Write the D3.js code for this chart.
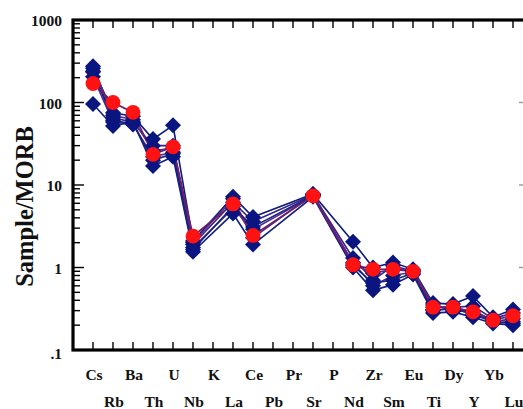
<!DOCTYPE html>
<html><head><meta charset="utf-8">
<script src="https://cdn.jsdelivr.net/npm/d3@7"></script>
<style>body{margin:0;background:#fff;overflow:hidden}svg{display:block}</style>
</head><body>
<svg id="c" width="523" height="409"></svg>
<script>
const categories = ["Cs","Rb","Ba","Th","U","Nb","K","La","Ce","Pb","Pr","Sr","P","Nd","Zr","Sm","Eu","Ti","Dy","Y","Yb","Lu"];
const yTickValues = [0.1, 1, 10, 100, 1000];
const yTickLabels = [".1", "1", "10", "100", "1000"];
const yLabel = "Sample/MORB";
// null = element not analysed (K, Pb, Pr, P)
const sample1 = [260, 75, 68, 36, 53, 2.1, null, 7.2, 4.1, null, null, 7.8, null, 2.05, 1.0, 1.15, 0.95, 0.37, 0.36, 0.45, 0.25, 0.31];
const sample2 = [235, 66, 57, 30, 30, 1.9, null, 6.2, 3.6, null, null, 7.6, null, 1.3, 0.7, 1.05, 0.9, 0.33, 0.33, 0.34, 0.24, 0.28];
const sample3 = [205, 58, 54, 22, 25, 1.75, null, 5.2, 2.9, null, null, 7.4, null, 1.15, 0.6, 0.8, 0.88, 0.31, 0.31, 0.28, 0.22, 0.24];
const sample4 = [96, 52, 58, 17, 22, 1.55, null, 4.5, 1.9, null, null, 7.2, null, 1.0, 0.53, 0.62, 0.82, 0.28, 0.29, 0.25, 0.21, 0.2];
const sample5 = [275, 70, 62, 26, 28, 2.0, null, 6.8, 2.3, null, null, 7.7, null, 1.1, 0.85, 0.95, 0.92, 0.35, 0.3, 0.3, 0.23, 0.22];
const sample6 = [240, 61, 55, 20, 24, 1.65, null, 5.5, 3.1, null, null, 7.5, null, 1.05, 0.65, 0.7, 0.85, 0.3, 0.32, 0.27, 0.22, 0.21];
const average = [170, 100, 76, 23.5, 29, 2.4, null, 5.9, 2.45, null, null, 7.4, null, 1.08, 0.95, 0.95, 0.9, 0.33, 0.33, 0.29, 0.23, 0.26];
const blueSamples = [sample1, sample2, sample3, sample4, sample5, sample6];
const lineColors = ["#0d1a7a", "#3a1f86", "#4b2a8c", "#101e82", "#5a2a80", "#1a237e"];

const svg = d3.select("#c");
const L = 73, T = 20, R = 531, B = 350;
const x = d3.scalePoint().domain(categories).range([L + 20, L + 440]);
const y = d3.scaleLog().domain([0.1, 1000]).range([B, T]);
const font = "'Liberation Serif','Times New Roman',serif";

const pts = arr => arr.map((v, i) => ({c: categories[i], v})).filter(d => d.v != null);
const line = d3.line().x(d => x(d.c)).y(d => y(d.v));

// lines
const gl = svg.append("g");
blueSamples.forEach((s, i) => {
  gl.append("path").attr("d", line(pts(s))).attr("fill", "none")
    .attr("stroke", lineColors[i]).attr("stroke-width", 1.6);
});
gl.append("path").attr("d", line(pts(average))).attr("fill", "none")
  .attr("stroke", "#6a1f6e").attr("stroke-width", 1.8);

// blue diamonds
const diamond = d3.symbol().type(d3.symbolSquare).size(128);
blueSamples.forEach(s => {
  svg.append("g").selectAll("path").data(pts(s)).join("path")
    .attr("d", diamond)
    .attr("transform", d => `translate(${x(d.c)},${y(d.v)}) rotate(45)`)
    .attr("fill", "#0a1580");
});
// red circles
svg.append("g").selectAll("circle").data(pts(average)).join("circle")
  .attr("cx", d => x(d.c)).attr("cy", d => y(d.v)).attr("r", 7.4)
  .attr("fill", "#ff1212");

// frame
const ax = svg.append("g").attr("stroke", "#000");
const allTicks = y.ticks().filter(v => v >= 0.1 && v <= 1000);
allTicks.forEach(v => {
  const major = yTickValues.includes(v);
  const len = major ? 11 : 7;
  ax.append("line").attr("x1", L).attr("x2", L + len).attr("y1", y(v)).attr("y2", y(v)).attr("stroke-width", 1.4);
  ax.append("line").attr("x1", R).attr("x2", R - len - 1).attr("y1", y(v)).attr("y2", y(v)).attr("stroke-width", 1.4).attr("stroke", "#999");
});
categories.forEach(c => {
  ax.append("line").attr("x1", x(c)).attr("x2", x(c)).attr("y1", T).attr("y2", T + 8).attr("stroke-width", 1.4);
  ax.append("line").attr("x1", x(c)).attr("x2", x(c)).attr("y1", B).attr("y2", B - 8).attr("stroke-width", 1.4);
});
ax.append("rect").attr("x", L).attr("y", T).attr("width", R - L).attr("height", B - T)
  .attr("fill", "none").attr("stroke-width", 3.2);

// y tick labels
svg.append("g").selectAll("text").data(yTickValues).join("text")
  .attr("x", 62).attr("y", (d, i) => y(d) + (i === 0 ? 9 : 6))
  .attr("text-anchor", "end").attr("font-family", font).attr("font-weight", "bold")
  .attr("font-size", 15.5).attr("fill", "#111")
  .text((d, i) => yTickLabels[i]);

// x labels, alternating rows
svg.append("g").selectAll("text").data(categories).join("text")
  .attr("x", d => x(d) + 1).attr("y", (d, i) => i % 2 === 0 ? 380 : 407)
  .attr("text-anchor", "middle").attr("font-family", font).attr("font-weight", "bold")
  .attr("font-size", 15.5).attr("fill", "#111")
  .text(d => d);

// y axis title
svg.append("text").attr("transform", "translate(33,206.5) rotate(-90)")
  .attr("text-anchor", "middle").attr("font-family", font).attr("font-weight", "bold")
  .attr("font-size", 24.5).attr("fill", "#111").text(yLabel);
</script>
</body></html>
